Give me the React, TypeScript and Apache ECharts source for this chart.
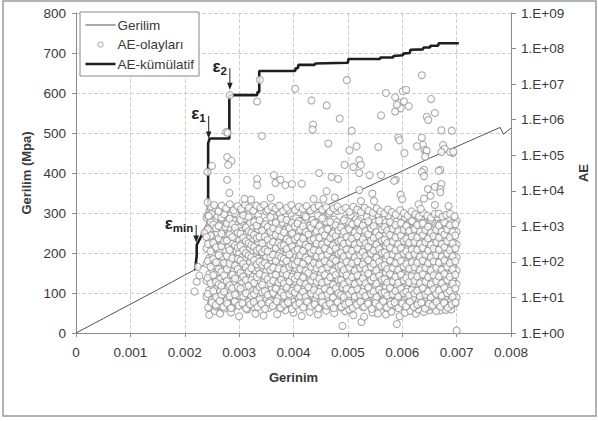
import React, { useEffect, useRef } from "react";
import * as echarts from "echarts";

// Gerilim (stress, MPa) vs Gerinim (strain)
const GERILIM_STRAIN = [0, 0.0005, 0.001, 0.0015, 0.002, 0.0025, 0.003, 0.0035, 0.004, 0.0045, 0.005, 0.0055, 0.006, 0.0065, 0.007, 0.0075, 0.0078, 0.00786, 0.008];
const GERILIM_MPA = [0, 36, 72, 108, 145, 180, 212, 246, 280, 312, 343, 374, 405, 437, 466, 496, 514, 497, 512];

// AE-kümülatif (right log axis)
const CUM_STRAIN = [0.00219, 0.00222, 0.00222, 0.00243, 0.00243, 0.00246, 0.00282, 0.00282, 0.00333, 0.00334, 0.00337, 0.00337, 0.00403, 0.00404, 0.00408, 0.00409, 0.00439, 0.0044, 0.005, 0.00501, 0.00559, 0.0056, 0.00583, 0.00584, 0.00601, 0.00602, 0.00614, 0.00615, 0.00638, 0.00639, 0.00651, 0.00652, 0.00666, 0.00667, 0.00704];
const CUM_AE = [59, 150, 299, 1230, 2.19e5, 2.95e5, 2.95e5, 4.9e6, 4.9e6, 6.0e6, 6.0e6, 2.34e7, 2.34e7, 2.8e7, 2.8e7, 3.47e7, 3.47e7, 3.8e7, 3.98e7, 5.1e7, 5.1e7, 5.6e7, 5.6e7, 6.2e7, 6.5e7, 7.2e7, 7.5e7, 9.3e7, 9.5e7, 1.07e8, 1.07e8, 1.2e8, 1.2e8, 1.41e8, 1.41e8];

// AE-olayları: dense cloud, by strain column; values are log10(AE)
const EVENT_COL_STRAIN = [0.0024, 0.00245, 0.0025, 0.00255, 0.0026, 0.00265, 0.0027, 0.00275, 0.0028, 0.00285, 0.0029, 0.00295, 0.003, 0.00305, 0.0031, 0.00315, 0.0032, 0.00325, 0.0033, 0.00335, 0.0034, 0.00345, 0.0035, 0.00355, 0.0036, 0.00365, 0.0037, 0.00375, 0.0038, 0.00385, 0.0039, 0.00395, 0.004, 0.00405, 0.0041, 0.00415, 0.0042, 0.00425, 0.0043, 0.00435, 0.0044, 0.00445, 0.0045, 0.00455, 0.0046, 0.00465, 0.0047, 0.00475, 0.0048, 0.00485, 0.0049, 0.00495, 0.005, 0.00505, 0.0051, 0.00515, 0.0052, 0.00525, 0.0053, 0.00535, 0.0054, 0.00545, 0.0055, 0.00555, 0.0056, 0.00565, 0.0057, 0.00575, 0.0058, 0.00585, 0.0059, 0.00595, 0.006, 0.00605, 0.0061, 0.00615, 0.0062, 0.00625, 0.0063, 0.00635, 0.0064, 0.00645, 0.0065, 0.00655, 0.0066, 0.00665, 0.0067, 0.00675, 0.0068, 0.00685, 0.0069, 0.00695, 0.007];
const EVENT_COL_LOG10 = [
  [1.02, 1.47, 1.95, 2.38, 2.86, 3.24],
  [0.51, 1.21, 1.66, 2.11, 2.57, 3.02, 3.41],
  [0.93, 1.34, 1.79, 2.22, 2.69, 2.94, 3.36],
  [1.12, 1.58, 1.88, 2.46, 2.77, 3.15, 0.62],
  [0.97, 1.29, 1.71, 2.03, 2.35, 2.81, 3.28, 3.47],
  [1.18, 1.52, 1.99, 2.27, 2.61, 3.06, 0.55],
  [0.88, 1.41, 1.84, 2.14, 2.49, 2.89, 3.19],
  [1.07, 1.63, 1.91, 2.31, 2.72, 2.98, 3.38],
  [0.79, 1.25, 1.56, 2.07, 2.42, 2.65, 3.11],
  [1.14, 1.45, 1.83, 2.19, 2.55, 2.92, 3.31, 0.58],
  [0.95, 1.37, 1.74, 2.01, 2.39, 2.83, 3.17],
  [1.22, 1.61, 1.97, 2.29, 2.66, 3.04, 3.44],
  [0.47, 1.05, 1.49, 1.86, 2.24, 2.59, 2.97, 3.26],
  [1.16, 1.39, 1.77, 2.12, 2.51, 2.87, 3.13],
  [0.91, 1.28, 1.68, 2.05, 2.44, 2.76, 3.22, 3.52],
  [1.09, 1.54, 1.93, 2.33, 2.62, 3.01, 0.66],
  [0.84, 1.19, 1.64, 1.98, 2.37, 2.71, 3.09, 3.39],
  [1.27, 1.59, 1.89, 2.26, 2.58, 2.95, 3.29],
  [0.99, 1.35, 1.76, 2.16, 2.47, 2.84, 3.18, 0.54],
  [1.11, 1.48, 1.82, 2.09, 2.53, 2.91, 3.33],
  [0.86, 1.24, 1.69, 2.02, 2.41, 2.74, 3.07, 3.45],
  [1.03, 1.43, 1.81, 2.21, 2.64, 2.99, 0.49],
  [0.94, 1.32, 1.73, 2.13, 2.48, 2.79, 3.16, 3.42],
  [1.21, 1.57, 1.94, 2.32, 2.67, 3.03, 0.71],
  [0.89, 1.26, 1.62, 2.04, 2.36, 2.73, 3.12, 3.35],
  [1.08, 1.46, 1.87, 2.23, 2.56, 2.93, 3.24],
  [0.96, 1.31, 1.72, 2.08, 2.45, 2.82, 3.14, 0.53],
  [1.17, 1.55, 1.92, 2.28, 2.63, 3.0, 3.37],
  [0.83, 1.23, 1.67, 2.0, 2.4, 2.78, 3.1],
  [1.13, 1.44, 1.85, 2.18, 2.54, 2.9, 3.27, 0.64],
  [0.92, 1.36, 1.75, 2.1, 2.43, 2.7, 3.05, 3.46],
  [1.19, 1.53, 1.96, 2.3, 2.68, 3.08],
  [0.87, 1.28, 1.65, 2.06, 2.39, 2.75, 3.2, 0.57],
  [1.06, 1.42, 1.8, 2.17, 2.52, 2.88, 3.23],
  [0.98, 1.33, 1.7, 2.12, 2.46, 2.85, 3.15, 3.4],
  [1.15, 1.51, 1.9, 2.25, 2.6, 2.96, 0.48],
  [0.9, 1.27, 1.63, 2.02, 2.38, 2.71, 3.09, 3.32],
  [1.1, 1.47, 1.86, 2.2, 2.57, 2.93, 3.21],
  [0.85, 1.22, 1.6, 1.99, 2.34, 2.69, 3.02, 0.59],
  [1.04, 1.4, 1.78, 2.15, 2.5, 2.86, 3.18, 3.48],
  [0.93, 1.3, 1.72, 2.07, 2.43, 2.8, 3.11],
  [1.2, 1.56, 1.93, 2.27, 2.62, 2.97, 3.3, 0.52],
  [0.88, 1.25, 1.66, 2.03, 2.41, 2.76, 3.06],
  [1.07, 1.45, 1.83, 2.19, 2.55, 2.91, 3.25],
  [0.95, 1.34, 1.69, 2.09, 2.47, 2.83, 3.13, 0.63],
  [1.14, 1.5, 1.89, 2.24, 2.59, 2.94, 3.36],
  [0.81, 1.21, 1.61, 2.01, 2.36, 2.72, 3.04],
  [1.01, 1.38, 1.79, 2.14, 2.51, 2.87, 3.19, 0.56],
  [0.96, 1.32, 1.74, 2.11, 2.44, 2.79, 3.12, 3.43],
  [1.18, 1.55, 1.91, 2.26, 2.63, 2.98],
  [0.2, 0.89, 1.28, 1.68, 2.05, 2.4, 2.77, 3.08],
  [1.09, 1.43, 1.84, 2.21, 2.56, 2.9, 3.22, 0.61],
  [0.94, 1.31, 1.71, 2.08, 2.42, 2.81, 3.14],
  [1.16, 1.52, 1.88, 2.23, 2.6, 2.95, 3.31],
  [0.86, 1.24, 1.64, 2.03, 2.37, 2.74, 3.05, 0.5],
  [1.05, 1.41, 1.8, 2.17, 2.53, 2.89, 3.2],
  [0.97, 1.35, 1.73, 2.12, 2.46, 2.84, 3.16, 3.44],
  [0.31, 1.12, 1.48, 1.9, 2.25, 2.61, 2.96],
  [0.91, 1.29, 1.67, 2.04, 2.39, 2.73, 3.1, 0.46],
  [1.19, 1.54, 1.92, 2.28, 2.64, 3.0, 3.27],
  [0.84, 1.23, 1.62, 2.0, 2.35, 2.7, 3.07],
  [1.03, 1.44, 1.82, 2.18, 2.54, 2.9, 3.23, 0.58],
  [0.95, 1.33, 1.7, 2.1, 2.45, 2.82, 3.13],
  [1.13, 1.49, 1.87, 2.22, 2.58, 2.93, 3.34, 0.55],
  [0.87, 1.26, 1.65, 2.06, 2.41, 2.76, 3.09],
  [1.08, 1.46, 1.85, 2.2, 2.57, 2.88, 3.18],
  [0.92, 1.3, 1.69, 2.07, 2.44, 2.78, 3.11, 0.52],
  [1.17, 1.53, 1.91, 2.26, 2.62, 2.99, 3.29],
  [0.83, 1.22, 1.6, 2.02, 2.38, 2.72, 3.04, 0.6],
  [1.06, 1.42, 1.81, 2.16, 2.52, 2.86, 3.21],
  [0.25, 0.98, 1.36, 1.75, 2.13, 2.48, 2.85, 3.15],
  [1.11, 1.47, 1.86, 2.24, 2.59, 2.94, 3.3, 0.47],
  [0.9, 1.27, 1.66, 2.05, 2.4, 2.75, 3.08],
  [1.15, 1.51, 1.89, 2.27, 2.63, 2.97, 3.24, 0.57],
  [0.85, 1.25, 1.63, 2.01, 2.36, 2.7, 3.06],
  [1.04, 1.4, 1.78, 2.14, 2.5, 2.87, 3.17, 0.62],
  [0.96, 1.34, 1.72, 2.11, 2.47, 2.8, 3.12],
  [1.2, 1.56, 1.93, 2.29, 2.65, 2.95, 0.54],
  [0.89, 1.28, 1.68, 2.04, 2.39, 2.74, 3.03, 0.66],
  [1.1, 1.45, 1.84, 2.19, 2.55, 2.91, 3.2],
  [0.93, 1.31, 1.7, 2.08, 2.43, 2.78, 3.1, 0.59],
  [1.13, 1.5, 1.88, 2.23, 2.6, 2.92],
  [0.82, 1.21, 1.61, 2.0, 2.37, 2.71, 3.05, 0.64],
  [1.07, 1.43, 1.82, 2.18, 2.53, 2.89, 3.14],
  [0.97, 1.35, 1.73, 2.12, 2.46, 2.83, 0.68],
  [1.16, 1.52, 1.9, 2.25, 2.61, 2.96, 3.26],
  [0.88, 1.26, 1.64, 2.03, 2.4, 2.73, 3.07, 0.63],
  [1.05, 1.41, 1.8, 2.15, 2.51, 2.86, 3.12],
  [0.94, 1.32, 1.71, 2.09, 2.44, 2.79, 0.65],
  [1.12, 1.48, 1.87, 2.22, 2.57, 2.9, 3.2],
  [0.91, 1.29, 1.67, 2.06, 2.42, 2.77, 3.09, 0.66],
  [1.08, 1.44, 1.83, 2.17, 2.54, 2.88],
  [0.07, 1.0, 1.38, 1.76, 2.13, 2.49, 2.84, 3.15],
];
// second, interleaved set of columns of the dense cloud; log10(AE)
const EVENT_COL2_STRAIN = [0.002425, 0.002475, 0.002525, 0.002575, 0.002625, 0.002675, 0.002725, 0.002775, 0.002825, 0.002875, 0.002925, 0.002975, 0.003025, 0.003075, 0.003125, 0.003175, 0.003225, 0.003275, 0.003325, 0.003375, 0.003425, 0.003475, 0.003525, 0.003575, 0.003625, 0.003675, 0.003725, 0.003775, 0.003825, 0.003875, 0.003925, 0.003975, 0.004025, 0.004075, 0.004125, 0.004175, 0.004225, 0.004275, 0.004325, 0.004375, 0.004425, 0.004475, 0.004525, 0.004575, 0.004625, 0.004675, 0.004725, 0.004775, 0.004825, 0.004875, 0.004925, 0.004975, 0.005025, 0.005075, 0.005125, 0.005175, 0.005225, 0.005275, 0.005325, 0.005375, 0.005425, 0.005475, 0.005525, 0.005575, 0.005625, 0.005675, 0.005725, 0.005775, 0.005825, 0.005875, 0.005925, 0.005975, 0.006025, 0.006075, 0.006125, 0.006175, 0.006225, 0.006275, 0.006325, 0.006375, 0.006425, 0.006475, 0.006525, 0.006575, 0.006625, 0.006675, 0.006725, 0.006775, 0.006825, 0.006875, 0.006925, 0.006975];
const EVENT_COL2_LOG10 = [
  [1.1, 1.55, 2.02, 2.5, 2.92, 3.3],
  [0.82, 1.4, 1.86, 2.3, 2.74, 3.12],
  [1.18, 1.63, 2.08, 2.54, 3.05, 3.52],
  [0.74, 1.01, 1.43, 1.99, 2.41, 2.95],
  [1.37, 1.8, 2.19, 2.66, 3.01, 0.78],
  [1.06, 1.32, 1.72, 2.44, 2.79, 3.24],
  [0.69, 1.16, 1.62, 1.97, 2.58, 3.34],
  [0.93, 1.46, 1.79, 2.17, 2.6, 3.08],
  [1.03, 1.34, 1.95, 2.33, 2.77, 3.21],
  [0.72, 1.26, 1.64, 2.1, 2.7, 3.06],
  [1.08, 1.53, 1.9, 2.47, 2.96, 3.37],
  [0.86, 1.3, 1.8, 2.08, 2.41, 2.82],
  [1.25, 1.69, 2.04, 2.45, 2.79, 3.18],
  [0.79, 1.02, 1.59, 1.95, 2.33, 2.68, 3.31],
  [1.12, 1.49, 1.85, 2.24, 2.58, 2.97],
  [0.88, 1.33, 1.73, 2.18, 2.52, 2.86, 3.27],
  [1.04, 1.49, 1.82, 2.13, 2.47, 2.82],
  [0.73, 1.09, 1.41, 2.05, 2.42, 2.76, 3.13],
  [1.2, 1.57, 1.93, 2.32, 2.67, 3.02],
  [0.95, 1.29, 1.66, 2.0, 2.37, 2.71, 3.17],
  [1.15, 1.36, 1.91, 2.28, 2.52, 2.88],
  [0.8, 1.18, 1.6, 1.97, 2.35, 2.71, 3.06],
  [1.07, 1.51, 1.88, 2.29, 2.62, 2.98],
  [0.9, 1.4, 1.77, 2.13, 2.48, 2.85, 3.26],
  [1.13, 1.47, 1.84, 2.2, 2.56, 2.95],
  [0.78, 1.25, 1.64, 2.03, 2.39, 2.76, 3.1],
  [1.01, 1.42, 1.81, 2.17, 2.53, 2.89],
  [0.7, 1.14, 1.5, 2.13, 2.46, 2.72, 3.22],
  [1.05, 1.39, 1.78, 2.09, 2.47, 2.83],
  [0.84, 1.28, 1.63, 2.02, 2.36, 2.64, 3.18],
  [1.09, 1.45, 1.86, 2.21, 2.58, 2.95],
  [0.76, 1.19, 1.58, 1.93, 2.44, 2.8, 3.1],
  [1.14, 1.53, 1.92, 2.31, 2.64, 3.0],
  [0.83, 1.26, 1.61, 2.01, 2.35, 2.69, 3.08],
  [1.04, 1.43, 1.8, 2.19, 2.54, 2.9],
  [0.75, 1.16, 1.56, 1.95, 2.31, 2.66, 3.0],
  [1.02, 1.38, 1.75, 2.12, 2.48, 2.84, 3.27],
  [0.87, 1.29, 1.69, 2.06, 2.42, 2.77],
  [1.11, 1.47, 1.86, 2.26, 2.61, 2.96],
  [0.79, 1.21, 1.59, 1.97, 2.33, 2.64, 3.09],
  [1.06, 1.44, 1.82, 2.16, 2.52, 2.87],
  [0.71, 1.15, 1.53, 1.93, 2.3, 2.68, 3.0],
  [1.03, 1.41, 1.78, 2.15, 2.49, 2.86, 3.22],
  [0.85, 1.24, 1.63, 2.02, 2.38, 2.75],
  [1.08, 1.46, 1.85, 2.21, 2.56, 2.92],
  [0.77, 1.18, 1.57, 1.96, 2.32, 2.67, 3.12],
  [1.0, 1.36, 1.74, 2.09, 2.46, 2.8],
  [0.83, 1.25, 1.63, 2.03, 2.37, 2.72, 3.03],
  [1.12, 1.49, 1.87, 2.23, 2.58, 2.88],
  [0.72, 1.07, 1.49, 1.9, 2.26, 2.6, 2.97],
  [1.01, 1.37, 1.77, 2.15, 2.51, 2.85, 3.17],
  [0.86, 1.24, 1.62, 2.0, 2.35, 2.7],
  [1.09, 1.46, 1.84, 2.2, 2.55, 2.92, 0.66],
  [0.78, 1.19, 1.57, 1.96, 2.31, 2.66, 3.06],
  [1.02, 1.38, 1.75, 2.13, 2.49, 2.83],
  [0.84, 1.23, 1.62, 2.01, 2.37, 2.72, 3.11],
  [1.07, 1.45, 1.83, 2.19, 2.54, 2.89],
  [0.73, 1.16, 1.54, 1.93, 2.28, 2.64, 3.02],
  [1.04, 1.4, 1.79, 2.16, 2.52, 2.87],
  [0.87, 1.28, 1.67, 2.05, 2.42, 2.78, 3.14],
  [1.1, 1.48, 1.86, 2.24, 2.59, 2.94],
  [0.76, 1.17, 1.56, 1.95, 2.32, 2.68, 3.01],
  [1.01, 1.39, 1.76, 2.12, 2.49, 2.84],
  [0.82, 1.22, 1.61, 2.0, 2.36, 2.73, 3.16],
  [1.13, 1.5, 1.88, 2.25, 2.6, 2.91],
  [0.74, 1.14, 1.52, 1.91, 2.27, 2.63, 2.98],
  [1.05, 1.42, 1.8, 2.17, 2.53, 2.88],
  [0.88, 1.27, 1.66, 2.04, 2.4, 2.76, 3.12],
  [1.09, 1.45, 1.83, 2.21, 2.57, 2.93],
  [0.77, 1.18, 1.58, 1.97, 2.33, 2.69, 3.04],
  [1.02, 1.41, 1.78, 2.14, 2.5, 2.86],
  [0.85, 1.24, 1.64, 2.02, 2.38, 2.74, 3.09],
  [1.12, 1.48, 1.87, 2.23, 2.59, 2.9],
  [0.75, 1.16, 1.55, 1.94, 2.3, 2.65, 3.01],
  [1.06, 1.43, 1.81, 2.18, 2.54, 2.87],
  [0.81, 1.21, 1.6, 1.99, 2.35, 2.71, 3.15],
  [1.11, 1.47, 1.85, 2.22, 2.56, 2.92],
  [0.78, 1.19, 1.59, 1.98, 2.34, 2.69, 3.04],
  [1.03, 1.4, 1.77, 2.14, 2.51, 2.85],
  [0.86, 1.26, 1.65, 2.03, 2.39, 2.75, 3.08],
  [1.08, 1.44, 1.83, 2.2, 2.55, 2.89],
  [0.74, 1.17, 1.57, 1.96, 2.32, 2.66, 2.99],
  [1.0, 1.37, 1.76, 2.13, 2.48, 2.82, 3.18],
  [0.83, 1.23, 1.62, 2.01, 2.37, 2.72],
  [1.1, 1.46, 1.84, 2.19, 2.55, 2.9, 0.62],
  [0.79, 1.2, 1.59, 1.98, 2.34, 2.68, 3.02],
  [1.04, 1.4, 1.78, 2.15, 2.5, 2.85],
  [0.87, 1.27, 1.66, 2.04, 2.41, 2.77, 3.11],
  [1.12, 1.49, 1.86, 2.23, 2.58, 2.91],
  [0.76, 1.18, 1.58, 1.97, 2.33, 2.69, 3.03],
  [1.02, 1.39, 1.79, 2.16, 2.52, 2.84],
  [0.84, 1.25, 1.64, 2.02, 2.38, 2.74, 3.06],
];
// top and bottom fringe of the dense cloud, [strain, log10(AE)]
const EVENT_EDGE = [
  [0.00247, 3.55], [0.00254, 3.6], [0.00262, 3.42], [0.00268, 3.58], [0.00276, 3.5], [0.00283, 3.62], [0.0029, 3.45], [0.00297, 3.57],
  [0.00304, 3.49], [0.00311, 3.61], [0.00318, 3.52], [0.00326, 3.44], [0.00332, 3.58], [0.00339, 3.53], [0.00346, 3.6], [0.00353, 3.47],
  [0.0036, 3.55], [0.00367, 3.5], [0.00374, 3.58], [0.00381, 3.43], [0.00388, 3.52], [0.00396, 3.6], [0.00403, 3.46], [0.0041, 3.55],
  [0.00417, 3.49], [0.00424, 3.57], [0.00431, 3.44], [0.00438, 3.52], [0.00446, 3.58], [0.00453, 3.47], [0.0046, 3.54], [0.00467, 3.42],
  [0.00474, 3.5], [0.00481, 3.56], [0.00488, 3.45], [0.00496, 3.52], [0.00503, 3.41], [0.0051, 3.55], [0.00517, 3.47], [0.00524, 3.4],
  [0.00531, 3.52], [0.00538, 3.44], [0.00546, 3.38], [0.00553, 3.5], [0.0056, 3.42], [0.00567, 3.36], [0.00574, 3.47], [0.00581, 3.4],
  [0.00588, 3.33], [0.00596, 3.45], [0.00603, 3.37], [0.0061, 3.3], [0.00617, 3.42], [0.00624, 3.34], [0.00631, 3.28], [0.00638, 3.38],
  [0.00646, 3.3], [0.00653, 3.24], [0.0066, 3.35], [0.00667, 3.36], [0.00674, 3.27], [0.00681, 3.32], [0.00688, 3.35], [0.00696, 3.28],
  [0.00243, 0.72], [0.0025, 0.86], [0.00257, 0.79], [0.00264, 0.9], [0.00271, 0.74], [0.00278, 0.83], [0.00285, 0.7], [0.00292, 0.88],
  [0.00299, 0.77], [0.00306, 0.84], [0.00313, 0.69], [0.0032, 0.8], [0.00327, 0.87], [0.00334, 0.73], [0.00341, 0.82], [0.00348, 0.68],
  [0.00355, 0.85], [0.00362, 0.76], [0.00369, 0.89], [0.00376, 0.71], [0.00383, 0.8], [0.0039, 0.86], [0.00397, 0.67], [0.00404, 0.78],
  [0.00411, 0.84], [0.00418, 0.72], [0.00425, 0.88], [0.00432, 0.75], [0.00439, 0.81], [0.00446, 0.69], [0.00453, 0.86], [0.0046, 0.77],
  [0.00467, 0.83], [0.00474, 0.7], [0.00481, 0.87], [0.00488, 0.74], [0.00495, 0.8], [0.00502, 0.85], [0.00509, 0.71], [0.00516, 0.79],
  [0.00523, 0.88], [0.0053, 0.73], [0.00537, 0.82], [0.00544, 0.68], [0.00551, 0.84], [0.00558, 0.76], [0.00565, 0.89], [0.00572, 0.72],
  [0.00579, 0.81], [0.00586, 0.86], [0.00593, 0.7], [0.006, 0.83], [0.00607, 0.75], [0.00614, 0.88], [0.00621, 0.73], [0.00628, 0.8],
  [0.00635, 0.85], [0.00642, 0.69], [0.00649, 0.82], [0.00656, 0.77], [0.00663, 0.87], [0.0067, 0.74], [0.00677, 0.84], [0.00684, 0.71],
  [0.00691, 0.8], [0.00698, 0.86],
];
// AE-olayları: scattered events outside the dense cloud, [strain, log10(AE)]
const EVENT_SPARSE = [
  [0.00218, 1.17], [0.00222, 1.44], [0.00227, 1.62], [0.00224, 1.86], [0.00236, 2.81], [0.0024, 2.7],
  [0.00244, 3.29], [0.00242, 3.68], [0.00242, 4.53], [0.0025, 4.7], [0.00276, 5.65], [0.00278, 4.95],
  [0.00286, 4.84], [0.0028, 4.73], [0.00278, 4.31], [0.00282, 3.94], [0.00283, 6.69], [0.00279, 5.63],
  [0.00333, 6.51], [0.00338, 7.12], [0.00342, 5.54], [0.00333, 4.33], [0.00333, 4.16], [0.00364, 4.44],
  [0.00367, 4.22], [0.00385, 4.16], [0.00397, 4.19], [0.00376, 4.31], [0.0031, 3.77], [0.00322, 3.75],
  [0.00358, 3.8], [0.00403, 6.87], [0.00433, 6.54], [0.00461, 6.4], [0.00436, 5.86], [0.00435, 5.72],
  [0.00485, 6.03], [0.00507, 5.69], [0.00498, 7.11], [0.0057, 6.75], [0.00587, 6.63], [0.00561, 6.12],
  [0.00587, 6.23], [0.00594, 6.47], [0.00603, 6.51], [0.00597, 6.32], [0.00612, 6.38], [0.0059, 6.42],
  [0.00601, 6.8], [0.00607, 6.84], [0.00636, 7.25], [0.00653, 6.58], [0.00645, 6.08], [0.00648, 5.99],
  [0.0066, 6.19], [0.00593, 5.49], [0.00636, 5.49], [0.00672, 5.7], [0.00691, 5.69], [0.00638, 5.29],
  [0.00641, 5.15], [0.00644, 5.1], [0.00675, 5.29], [0.00678, 5.18], [0.00693, 5.06], [0.00672, 5.09],
  [0.0064, 4.59], [0.0067, 4.59], [0.0066, 4.11], [0.00672, 4.19], [0.00647, 4.05], [0.00464, 5.33],
  [0.00503, 5.14], [0.00516, 5.25], [0.00556, 5.23], [0.00494, 4.73], [0.0051, 4.67], [0.00521, 4.86],
  [0.00524, 4.73], [0.00521, 4.5], [0.00447, 4.5], [0.0047, 4.39], [0.00482, 4.33], [0.0054, 4.44],
  [0.00561, 4.44], [0.00588, 4.31], [0.00585, 4.28], [0.00595, 5.42], [0.00604, 5.06], [0.00627, 5.25],
  [0.00645, 5.13], [0.00642, 4.96], [0.00667, 4.56], [0.00688, 5.09], [0.00694, 5.1], [0.00636, 4.53],
  [0.0064, 4.41], [0.0067, 4.05], [0.0067, 3.96], [0.00652, 3.86], [0.0064, 3.78], [0.00437, 3.77],
  [0.00455, 3.77], [0.00476, 3.81], [0.00461, 3.99], [0.00521, 4.02], [0.00524, 3.71], [0.00545, 3.92],
  [0.00548, 3.71], [0.00597, 3.89], [0.006, 3.76], [0.0066, 3.6], [0.00685, 3.57], [0.0063, 3.62],
  [0.00634, 3.49], [0.00415, 4.2],
];

// Annotations: [label, subscript, arrow strain, arrow top MPa, arrow tip MPa]
const MARKERS: [string, string, number, number, number][] = [
  ["ε", "min", 0.00221, 270, 226],
  ["ε", "1", 0.00244, 543, 486],
  ["ε", "2", 0.00283, 662, 608],
];

const FONT = "'Liberation Sans', Arial, sans-serif";
const TXT = "#3a3a3a";
// legend icons (bounding points keep the marks thin / small)
const ICON_THIN = "path://M0,0L0,0.01M30,14L30,13.99M0,6.5L30,6.5L30,7.5L0,7.5Z";
const ICON_THICK = "path://M0,0L0,0.01M30,14L30,13.99M0,5.7L30,5.7L30,8.3L0,8.3Z";
const ICON_DOT = "path://M0,0L0,0.01M30,14L30,13.99M17.6,7A2.6,2.6,0,1,1,12.4,7A2.6,2.6,0,1,1,17.6,7Z";

export default function App() {
  const ref = useRef<HTMLDivElement>(null);
  useEffect(() => {
    document.body.style.margin = "0";
    const chart = echarts.init(ref.current!, null, { renderer: "svg" });
    const lineData = GERILIM_STRAIN.map((x, i) => [x, GERILIM_MPA[i]]);
    const cumData = CUM_STRAIN.map((x, i) => [x, CUM_AE[i]]);
    const eventData: number[][] = [];
    EVENT_COL_STRAIN.forEach((x, i) => EVENT_COL_LOG10[i].forEach((e) => eventData.push([x, Math.pow(10, e)])));
    EVENT_COL2_STRAIN.forEach((x, i) => EVENT_COL2_LOG10[i].forEach((e) => eventData.push([x, Math.pow(10, e)])));
    EVENT_EDGE.forEach(([x, e]) => eventData.push([x, Math.pow(10, e)]));
    EVENT_SPARSE.forEach(([x, e]) => eventData.push([x, Math.pow(10, e)]));
    const pow = (n: number) => {
      const e = Math.round(Math.log10(n));
      return "1.E+" + (e < 10 ? "0" : "") + e;
    };
    chart.setOption({
      animation: false,
      backgroundColor: "#fff",
      textStyle: { fontFamily: FONT },
      grid: { left: 76, right: 87, top: 13, bottom: 88, outerBoundsMode: "none", containLabel: false },
      legend: {
        orient: "vertical",
        left: 80,
        top: 12,
        padding: [6, 5, 5, 5],
        itemGap: 5,
        itemWidth: 30,
        itemHeight: 14,
        borderColor: "#8a8a8a",
        borderWidth: 1,
        backgroundColor: "#fff",
        data: [
          { name: "Gerilim", icon: ICON_THIN, itemStyle: { color: "#555", borderWidth: 0 } },
          { name: "AE-olayları", icon: ICON_DOT, itemStyle: { color: "#fff", borderColor: "#8a8a8a", borderWidth: 1 } },
          { name: "AE-kümülatif", icon: ICON_THICK, itemStyle: { color: "#1e1e1e", borderWidth: 0 } },
        ],
        textStyle: { fontSize: 13.5, color: TXT, fontFamily: FONT, padding: [0, 0, 0, -3] },
      },
      xAxis: {
        type: "value",
        min: 0,
        max: 0.008,
        interval: 0.001,
        name: "Gerinim",
        nameLocation: "middle",
        nameGap: 38,
        nameTextStyle: { fontSize: 13, fontWeight: "bold", color: TXT },
        axisLine: { lineStyle: { color: "#8c8c8c" } },
        axisTick: { length: 4, lineStyle: { color: "#8c8c8c" } },
        axisLabel: { fontSize: 13.5, color: TXT, margin: 12, formatter: (v: number) => String(+v.toFixed(3)) },
        splitLine: { show: true, lineStyle: { color: "#cfcfcf", type: [4, 2] } },
      },
      yAxis: [
        {
          type: "value",
          min: 0,
          max: 800,
          interval: 100,
          name: "Gerilim (Mpa)",
          nameLocation: "middle",
          nameGap: 43,
          nameTextStyle: { fontSize: 13, fontWeight: "bold", color: TXT },
          axisLine: { show: true, lineStyle: { color: "#8c8c8c" } },
          axisTick: { show: true, length: 4, lineStyle: { color: "#8c8c8c" } },
          axisLabel: { fontSize: 13.5, color: TXT, margin: 10 },
          splitLine: { show: true, lineStyle: { color: "#cfcfcf", type: [4, 2] } },
        },
        {
          type: "log",
          logBase: 10,
          min: 1,
          max: 1e9,
          position: "right",
          name: "AE",
          nameLocation: "middle",
          nameGap: 66,
          nameTextStyle: { fontSize: 13, fontWeight: "bold", color: TXT },
          axisLine: { show: true, lineStyle: { color: "#8c8c8c" } },
          axisTick: { show: true, length: 5, lineStyle: { color: "#8c8c8c" } },
          axisLabel: { fontSize: 13.5, color: TXT, margin: 10, formatter: (v: number) => pow(v) },
          splitLine: { show: false },
          minorTick: { show: false },
        },
      ],
      series: [
        {
          name: "Gerilim",
          type: "line",
          data: lineData,
          yAxisIndex: 0,
          symbol: "none",
          lineStyle: { color: "#555", width: 1 },
          itemStyle: { color: "#555" },
          z: 2,
        },
        {
          name: "AE-kümülatif",
          type: "line",
          data: cumData,
          yAxisIndex: 1,
          symbol: "none",
          lineStyle: { color: "#1e1e1e", width: 2.6 },
          itemStyle: { color: "#1e1e1e" },
          z: 3,
        },
        {
          name: "AE-olayları",
          type: "scatter",
          data: eventData,
          yAxisIndex: 1,
          symbol: "circle",
          symbolSize: 7,
          large: false,
          itemStyle: { color: "#fff", borderColor: "#959595", borderWidth: 1.1 },
          z: 4,
        },
      ],
    });

    const graphics: any[] = [
      { type: "rect", shape: { x: 3, y: 1, width: 593, height: 415 }, style: { fill: "none", stroke: "#9a9a9a", lineWidth: 1.5 }, z: -1, silent: true },
    ];
    MARKERS.forEach(([main, sub, x, top, tip]) => {
      const p0 = chart.convertToPixel({ xAxisIndex: 0, yAxisIndex: 0 }, [x, top]) as number[];
      const p1 = chart.convertToPixel({ xAxisIndex: 0, yAxisIndex: 0 }, [x, tip]) as number[];
      graphics.push({ type: "line", shape: { x1: p0[0], y1: p0[1], x2: p1[0], y2: p1[1] - 5 }, style: { stroke: "#222", lineWidth: 1 }, z: 10 });
      graphics.push({ type: "polygon", shape: { points: [[p1[0] - 2.8, p1[1] - 7], [p1[0] + 2.8, p1[1] - 7], [p1[0], p1[1]]] }, style: { fill: "#222" }, z: 10 });
      graphics.push({
        type: "text",
        x: p0[0] - 3,
        y: p0[1] - 2,
        style: {
          text: "{e|" + main + "}{s|" + sub + "}",
          align: "right",
          verticalAlign: "middle",
          rich: {
            e: { fontSize: 17, fontWeight: "bold", fill: "#222", fontFamily: FONT },
            s: { fontSize: 11.5, fontWeight: "bold", fill: "#222", fontFamily: FONT, padding: [9, 0, 0, 0] },
          },
        },
        z: 10,
      });
    });
    chart.setOption({ graphic: graphics });
    return () => chart.dispose();
  }, []);
  return <div ref={ref} style={{ width: 598, height: 421 }} />;
}
